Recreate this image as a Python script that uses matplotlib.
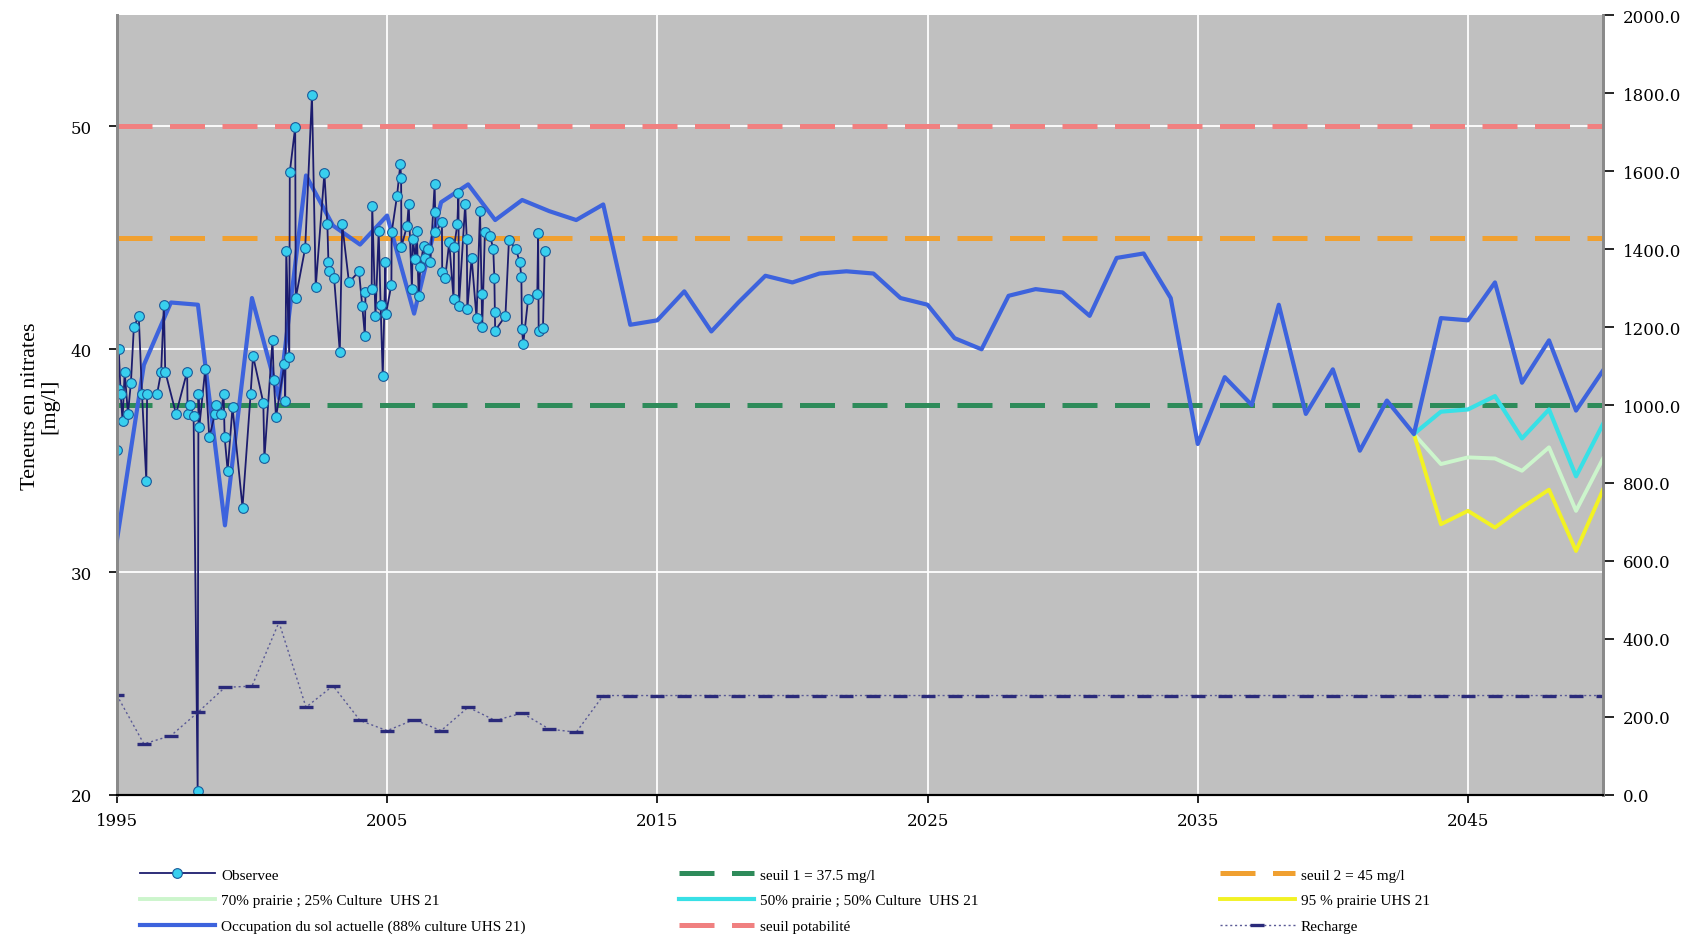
import matplotlib
matplotlib.use("Agg")
import matplotlib.pyplot as plt
from matplotlib.ticker import FormatStrFormatter

# --- data ---
obs_years = [
    1995.00, 1995.03, 1995.07, 1995.14, 1995.21, 1995.29, 1995.41, 1995.52, 1995.63, 1995.81,
    1995.93, 1996.09, 1996.12, 1996.49, 1996.64, 1996.74, 1996.79, 1997.19, 1997.60, 1997.62,
    1997.72, 1997.84, 1997.99, 1998.02, 1998.05, 1998.27, 1998.42, 1998.63, 1998.66, 1998.85,
    1998.95, 1998.99, 1999.10, 1999.28, 1999.65, 1999.95, 2000.04, 2000.42, 2000.46, 2000.76,
    2000.81, 2000.89, 2001.20, 2001.23, 2001.27, 2001.38, 2001.40, 2001.60, 2001.62, 2001.97,
    2002.22, 2002.36, 2002.68, 2002.79, 2002.83, 2002.85, 2003.04, 2003.25, 2003.34, 2003.59,
    2003.96, 2004.08, 2004.18, 2004.20, 2004.43, 2004.45, 2004.57, 2004.69, 2004.76, 2004.84,
    2004.94, 2004.96, 2005.16, 2005.17, 2005.37, 2005.49, 2005.52, 2005.53, 2005.74, 2005.80,
    2005.92, 2005.95, 2006.05, 2006.10, 2006.17, 2006.23, 2006.35, 2006.41, 2006.50, 2006.60,
    2006.76, 2006.78, 2006.79, 2007.03, 2007.04, 2007.15, 2007.30, 2007.46, 2007.48, 2007.60,
    2007.64, 2007.66, 2007.89, 2007.95, 2007.97, 2008.13, 2008.31, 2008.44, 2008.50, 2008.52,
    2008.62, 2008.81, 2008.93, 2008.97, 2008.99, 2009.00, 2009.38, 2009.51, 2009.77, 2009.91,
    2009.97, 2009.99, 2010.04, 2010.22, 2010.56, 2010.59, 2010.61, 2010.77, 2010.83,
]
obs_values = [
    35.5, 38.2, 40.0, 38.0, 36.8, 39.0, 37.1, 38.5, 41.0, 41.5,
    38.0, 34.1, 38.0, 38.0, 39.0, 42.0, 39.0, 37.1, 39.0, 37.1,
    37.5, 37.0, 20.2, 38.0, 36.5, 39.1, 36.05, 37.1, 37.5, 37.1,
    38.0, 36.05, 34.55, 37.4, 32.9, 38.0, 39.7, 37.6, 35.1, 40.4,
    38.6, 36.95, 39.35, 37.7, 44.4, 39.65, 47.95, 49.97, 42.3, 44.55,
    51.4, 42.8, 47.9, 45.6, 43.9, 43.5, 43.2, 39.9, 45.6, 43.0,
    43.5, 41.96, 40.6, 42.55, 42.7, 46.45, 41.5, 45.3, 42.0, 38.8,
    43.9, 41.6, 42.9, 45.25, 46.9, 48.3, 47.7, 44.6, 45.55, 46.5,
    42.7, 44.95, 44.06, 45.3, 42.4, 43.7, 44.65, 44.1, 44.5, 43.9,
    47.4, 46.15, 45.25, 45.7, 43.46, 43.2, 44.8, 42.26, 44.6, 45.6,
    47.0, 41.96, 46.5, 44.95, 41.8, 44.1, 41.4, 46.2, 42.5, 41.0,
    45.25, 45.1, 44.5, 43.2, 41.66, 40.84, 41.5, 44.9, 44.5, 43.9,
    43.26, 40.9, 40.25, 42.26, 42.5, 45.2, 40.84, 40.95, 44.4,
]

model_years = list(range(1995, 2051))
model_current = [
    31.4, 39.3, 42.1, 42.0, 32.1, 42.3, 37.8, 47.8, 45.55, 44.7,
    46.0, 41.6, 46.6, 47.4, 45.8, 46.7, 46.2, 45.8, 46.5, 41.1,
    41.3, 42.6, 40.8, 42.1, 43.3, 43.0, 43.4, 43.5, 43.4, 42.3,
    42.0, 40.5, 40.0, 42.4, 42.7, 42.55, 41.5, 44.1, 44.3, 42.3,
    35.75, 38.75, 37.5, 42.0, 37.1, 39.1, 35.45, 37.7, 36.2, 41.4,
    41.3, 43.0, 38.5, 40.4, 37.25, 39.05,
]

scen_years = list(range(2043, 2051))
scen_50 = [36.2, 37.2, 37.3, 37.9, 36.0, 37.3, 34.3, 36.65]
scen_70 = [36.2, 34.85, 35.15, 35.1, 34.55, 35.6, 32.75, 35.1]
scen_95 = [36.2, 32.15, 32.75, 32.0, 32.9, 33.7, 30.95, 33.7]

recharge = [
    256, 131, 152, 212, 276, 279, 443, 225, 280, 191,
    165, 193, 165, 225, 191, 210, 169, 161,
] + [255] * 38

seuil_1 = 37.5
seuil_2 = 45.0
seuil_potabilite = 50.0

x_ticks = [1995, 2005, 2015, 2025, 2035, 2045]

# --- figure ---
fig = plt.figure(figsize=(16.96, 9.37), dpi=100)
ax = fig.add_axes([0.0689, 0.1505, 0.8763, 0.8324])
ax.set_facecolor("#c0c0c0")

ax.set_xlim(1995, 2050)
ax.set_ylim(20, 55)
ax.set_xticks(x_ticks)
ax.set_yticks([20, 30, 40, 50])
ax.grid(True, color="white", linewidth=1.3, zorder=0)
ax.set_axisbelow(True)

dash_kw = dict(linewidth=3.6, dashes=(7, 3.5), zorder=2)
h_s1, = ax.plot([1995, 2050], [seuil_1, seuil_1], color="#2e8b5a", label="seuil 1 = 37.5 mg/l", **dash_kw)
h_s2, = ax.plot([1995, 2050], [seuil_2, seuil_2], color="#f0a030", label="seuil 2 = 45 mg/l", **dash_kw)
h_pot, = ax.plot([1995, 2050], [seuil_potabilite, seuil_potabilite], color="#f08080",
                 label="seuil potabilité", **dash_kw)

h_70, = ax.plot(scen_years, scen_70, color="#ccf5cc", linewidth=2.8, zorder=3,
                label="70% prairie ; 25% Culture  UHS 21")
h_95, = ax.plot(scen_years, scen_95, color="#f2f224", linewidth=2.8, zorder=3,
                label="95 % prairie UHS 21")
h_50, = ax.plot(scen_years, scen_50, color="#38e0e6", linewidth=3.0, zorder=3,
                label="50% prairie ; 50% Culture  UHS 21")
h_cur, = ax.plot(model_years, model_current, color="#3d63dd", linewidth=3.0, zorder=4,
                 label="Occupation du sol actuelle (88% culture UHS 21)")
h_obs, = ax.plot(obs_years, obs_values, color="#1c1c6e", linewidth=1.3, marker="o",
                 markersize=7, markerfacecolor="#38cfee", markeredgecolor="#1a5a9a",
                 markeredgewidth=0.8, zorder=5, label="Observee")

ax2 = ax.twinx()
ax2.set_ylim(0, 2000)
ax2.set_yticks(range(0, 2001, 200))
ax2.yaxis.set_major_formatter(FormatStrFormatter("%.1f"))
h_rec, = ax2.plot(model_years, recharge, color="#5a5a96", linewidth=1.0, linestyle=(0, (1.5, 2)),
                  marker="_", markersize=10, markeredgewidth=2.4, markeredgecolor="#2a2a7a",
                  label="Recharge")

for lab in ax.get_xticklabels() + ax.get_yticklabels() + ax2.get_yticklabels():
    lab.set_fontfamily("DejaVu Serif")
    lab.set_fontsize(12)
ax.tick_params(axis="x", length=6, width=1.2, pad=6)
ax.tick_params(axis="y", length=6, width=1.2, pad=12)
ax2.tick_params(axis="y", length=8, width=1.2, pad=6)

for a in (ax, ax2):
    a.spines["top"].set_visible(False)
    a.spines["left"].set_color("#8a8a8a")
    a.spines["left"].set_linewidth(2)
    a.spines["right"].set_color("#8a8a8a")
    a.spines["right"].set_linewidth(2)
    a.spines["bottom"].set_color("black")
    a.spines["bottom"].set_linewidth(1.5)

ax.set_ylabel("Teneurs en nitrates\n[mg/l]", family="Liberation Serif", fontsize=16,
              linespacing=1.05, labelpad=8)

leg_kw = dict(loc="upper left", frameon=False, ncol=1, borderpad=0, borderaxespad=0,
              handlelength=4.9, handletextpad=0.4, labelspacing=0.78,
              prop={"family": "Liberation Serif", "size": 11})
fig.legend([h_obs, h_70, h_cur], [h.get_label() for h in (h_obs, h_70, h_cur)],
           bbox_to_anchor=(0.0825, 0.0725), **leg_kw)
fig.legend([h_s1, h_50, h_pot], [h.get_label() for h in (h_s1, h_50, h_pot)],
           bbox_to_anchor=(0.4004, 0.0725), **leg_kw)
fig.legend([h_s2, h_95, h_rec], [h.get_label() for h in (h_s2, h_95, h_rec)],
           bbox_to_anchor=(0.7193, 0.0725), **leg_kw)

fig.savefig("out.png", dpi=100)
